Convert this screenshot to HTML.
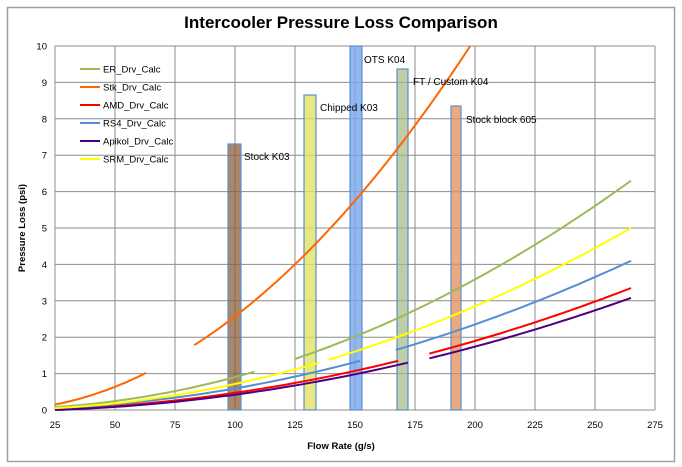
<!DOCTYPE html>
<html><head><meta charset="utf-8"><style>body{margin:0;background:#fff}svg{display:block;font-family:"Liberation Sans",sans-serif}</style></head>
<body>
<svg id="s" width="682" height="467" viewBox="0 0 682 467" xmlns="http://www.w3.org/2000/svg">
<rect x="0" y="0" width="682" height="467" fill="#fff"/>
<rect x="7.5" y="7.5" width="667" height="454" fill="none" stroke="#a0a0a0" stroke-width="1.5"/>
<text x="341" y="28" text-anchor="middle" font-size="17" font-weight="bold">Intercooler Pressure Loss Comparison</text>
<g id="grid" stroke="#8c8c8c" stroke-width="1"></g>
<g id="bars"></g>
<g id="lines" fill="none" stroke-width="2"></g>
<g font-size="10" fill="#000">
<text x="244" y="160">Stock K03</text>
<text x="320" y="111">Chipped K03</text>
<text x="364" y="63">OTS K04</text>
<text x="413" y="85">FT / Custom K04</text>
<text x="466" y="123">Stock block 605</text>
</g>
<g id="legend" font-size="9.5"></g>
<g id="ticks" font-size="9.5" fill="#000"></g>
<text x="341" y="449" text-anchor="middle" font-size="9.5" font-weight="bold">Flow Rate (g/s)</text>
<text transform="translate(25,228) rotate(-90)" text-anchor="middle" font-size="9.5" font-weight="bold">Pressure Loss (psi)</text>
</svg>
<script>
const NS="http://www.w3.org/2000/svg";
const X=v=>55+(v-25)*2.4, Y=v=>410-v*36.4;
function el(p,t,a,txt){const e=document.createElementNS(NS,t);for(const k in a)e.setAttribute(k,a[k]);if(txt!=null)e.textContent=txt;document.getElementById(p).appendChild(e);return e;}
for(let v=25;v<=275;v+=25){el('grid','line',{x1:X(v),x2:X(v),y1:46,y2:410});el('ticks','text',{x:X(v),y:428,'text-anchor':'middle'},v);}
for(let v=0;v<=10;v++){el('grid','line',{x1:55,x2:655,y1:Y(v),y2:Y(v)});el('ticks','text',{x:47,y:Y(v)+3.5,'text-anchor':'end'},v);}
const bars=[[228,241,144,'rgba(140,95,60,0.75)'],[304,316,95,'rgba(225,225,100,0.8)'],[350,362,46,'rgba(120,165,235,0.8)'],[397,408,69,'rgba(165,185,130,0.7)'],[451,461,106,'rgba(230,140,85,0.75)']];
bars.forEach(b=>el('bars','rect',{x:b[0],y:b[2],width:b[1]-b[0],height:410-b[2],fill:b[3],stroke:'#5b8fd0','stroke-width':1.2}));
function seg(c,x1,y1,x2,y2){const b=(y2-y1)/(x2*x2-x1*x1),a=y1-b*x1*x1;let d='';for(let i=0;i<=40;i++){const x=x1+(x2-x1)*i/40;d+=(i?'L':'M')+X(x).toFixed(1)+','+Y(a+b*x*x).toFixed(1);}el('lines','path',{d:d,stroke:c});}
const S=[['#9bbb59',[[25,0.08,108,1.05],[125,1.4,265,6.3]]],['#ff6600',[[25,0.15,63,1.02],[83,1.78,198,10]]],['#ff0000',[[25,0.02,168,1.35],[181,1.55,265,3.35]]],['#558ed5',[[25,0.05,152,1.35],[167,1.65,265,4.1]]],['#4b0082',[[25,0,172,1.3],[181,1.42,265,3.08]]],['#ffff00',[[25,0.05,135,1.3],[139,1.38,265,5.0]]]];
S.forEach(s=>s[1].forEach(g=>seg(s[0],...g)));
const names=['ER_Drv_Calc','Stk_Drv_Calc','AMD_Drv_Calc','RS4_Drv_Calc','Apikol_Drv_Calc','SRM_Drv_Calc'];
names.forEach((n,i)=>{const y=69+i*18;el('legend','line',{x1:80,x2:100,y1:y,y2:y,stroke:S[i][0],'stroke-width':2});el('legend','text',{x:103,y:y+3.5},n);});
</script>
</body></html>
